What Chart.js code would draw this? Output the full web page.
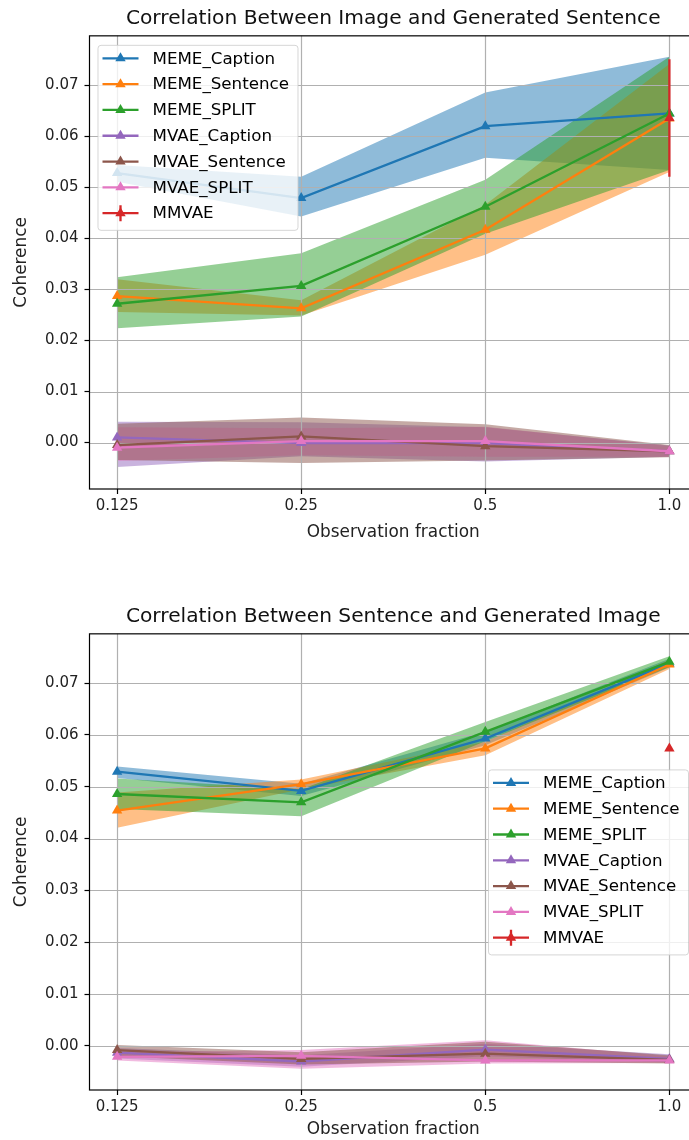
<!DOCTYPE html>
<html>
<head>
<meta charset="utf-8">
<script src="https://cdn.jsdelivr.net/npm/chart.js@4/dist/chart.umd.min.js"></script>
<style>
    html, body { margin: 0; padding: 0; background: #fff; }
    /* the figure is cut on the right: canvases are wider than the page and clipped here */
    #wrap { position: relative; width: 689px; height: 1140px; overflow: hidden; }
    canvas { position: absolute; left: 0; }
    #imgSent { top: 0; }
    #sentImg { top: 598px; }
</style>
</head>
<body>
<div id="wrap">
    <canvas id="imgSent" width="697" height="543"></canvas>
    <canvas id="sentImg" width="697" height="542"></canvas>
</div>
<script>
// ============================================================================
// Data
// ============================================================================

const xTickLabels = ['0.125', '0.25', '0.5', '1.0'];
const xPositions = [0, 1, 2, 3];
const yTickValues = [0, 0.01, 0.02, 0.03, 0.04, 0.05, 0.06, 0.07];

const seriesNames = ['MEME_Caption', 'MEME_Sentence', 'MEME_SPLIT', 'MVAE_Caption', 'MVAE_Sentence', 'MVAE_SPLIT'];
const seriesColors = ['#1f77b4', '#ff7f0e', '#2ca02c', '#9467bd', '#8c564b', '#e377c2'];
const mmvaeName = 'MMVAE';
const mmvaeColor = '#d62728';

// Image -> generated sentence
const i2sMean = [
    [0.0528, 0.0479, 0.0620, 0.0645],
    [0.0287, 0.0263, 0.0417, 0.0635],
    [0.0272, 0.0307, 0.0462, 0.0645],
    [0.0010, -0.0001, -0.0001, -0.0017],
    [-0.0005, 0.0012, -0.0007, -0.0017],
    [-0.0010, 0.0003, 0.0003, -0.0017]
];
const i2sLow = [
    [0.0511, 0.0443, 0.0558, 0.0534],
    [0.0256, 0.0249, 0.0368, 0.0530],
    [0.0224, 0.0247, 0.0409, 0.0534],
    [-0.0048, -0.0027, -0.0037, -0.0028],
    [-0.0034, -0.0040, -0.0035, -0.0029],
    [-0.0036, -0.0025, -0.0028, -0.0028]
];
const i2sHigh = [
    [0.0544, 0.0521, 0.0686, 0.0756],
    [0.0320, 0.0279, 0.0466, 0.0742],
    [0.0324, 0.0371, 0.0515, 0.0756],
    [0.0041, 0.0040, 0.0030, -0.0006],
    [0.0037, 0.0049, 0.0036, -0.0005],
    [0.0030, 0.0028, 0.0031, -0.0007]
];
const i2sMmvae = [0.0636, 0.0521, 0.0751]; // mean, low, high at 1.0

// Sentence -> generated image
const s2iMean = [
    [0.0529, 0.0492, 0.0593, 0.0738],
    [0.0454, 0.0505, 0.0574, 0.0736],
    [0.0486, 0.0470, 0.0606, 0.0741],
    [-0.0013, -0.0030, -0.0007, -0.0025],
    [-0.0008, -0.0025, -0.0015, -0.0027],
    [-0.0021, -0.0019, -0.0028, -0.0028]
];
const s2iLow = [
    [0.0517, 0.0482, 0.0580, 0.0730],
    [0.0421, 0.0495, 0.0561, 0.0727],
    [0.0457, 0.0443, 0.0588, 0.0731],
    [-0.0024, -0.0040, -0.0020, -0.0032],
    [-0.0020, -0.0036, -0.0030, -0.0034],
    [-0.0028, -0.0044, -0.0034, -0.0033]
];
const s2iHigh = [
    [0.0539, 0.0506, 0.0606, 0.0747],
    [0.0489, 0.0514, 0.0587, 0.0745],
    [0.0516, 0.0495, 0.0625, 0.0752],
    [-0.0004, -0.0018, 0.0004, -0.0016],
    [0.0002, -0.0012, 0.0008, -0.0018],
    [-0.0012, -0.0008, 0.0011, -0.0020]
];
const s2iMmvae = [0.0574, 0.0574, 0.0574];

// band stacking (bottom first); the brown band ends up on top near zero
const bandDrawOrder = [0, 1, 2, 3, 5, 4];

// ============================================================================
// Helpers
// ============================================================================

const FONT = 'DejaVu Sans';

function hexToRgba(hex, a) {
    const n = parseInt(hex.slice(1), 16);
    return `rgba(${(n >> 16) & 255}, ${(n >> 8) & 255}, ${n & 255}, ${a})`;
}

function toPoints(values) {
    return values.map((v, i) => ({ x: xPositions[i], y: v }));
}

// grid on top of the bands, under the lines (matplotlib zorder)
const gridPlugin = {
    id: 'mplGrid',
    beforeDatasetsDraw(chart) {
        const { ctx, chartArea: a, scales: { x, y } } = chart;
        ctx.save();
        ctx.strokeStyle = '#b0b0b0';
        ctx.lineWidth = 1.2;
        ctx.beginPath();
        x.ticks.forEach(t => {
            const px = Math.round(x.getPixelForValue(t.value)) + 0.5;
            ctx.moveTo(px, a.top); ctx.lineTo(px, a.bottom);
        });
        y.ticks.forEach(t => {
            const py = Math.round(y.getPixelForValue(t.value)) + 0.5;
            ctx.moveTo(a.left, py); ctx.lineTo(a.right, py);
        });
        ctx.stroke();
        ctx.restore();
    },
    afterDatasetsDraw(chart) {
        const { ctx, chartArea: a } = chart;
        ctx.save();
        ctx.strokeStyle = '#000';
        ctx.lineWidth = 1.2;
        ctx.strokeRect(a.left, a.top, a.right - a.left, a.bottom - a.top);
        ctx.restore();
    }
};

function drawHandle(ctx, x0, y, color, withBar) {
    ctx.strokeStyle = color;
    ctx.lineWidth = 2.3;
    ctx.beginPath();
    ctx.moveTo(x0, y); ctx.lineTo(x0 + 36, y);
    if (withBar) { ctx.moveTo(x0 + 18, y - 8); ctx.lineTo(x0 + 18, y + 8); }
    ctx.stroke();
    const r = 6, cx = x0 + 18;
    ctx.fillStyle = color;
    ctx.beginPath();
    ctx.moveTo(cx, y - r);
    ctx.lineTo(cx + r * 0.866, y + r * 0.5);
    ctx.lineTo(cx - r * 0.866, y + r * 0.5);
    ctx.closePath();
    ctx.fill();
}

const legendPlugin = {
    id: 'mplLegend',
    afterDraw(chart, args, opts) {
        const { ctx, chartArea: a } = chart;
        const w = 200, h = 185, rowH = 25.8;
        const bx = opts.place === 'upperLeft' ? a.left + 8 : a.right - 9 - w;
        const by = opts.place === 'upperLeft' ? a.top + 9 : (a.top + a.bottom) / 2 - h / 2;
        ctx.save();
        ctx.fillStyle = 'rgba(255,255,255,0.8)';
        ctx.strokeStyle = 'rgba(204,204,204,0.8)';
        ctx.lineWidth = 1;
        ctx.beginPath();
        ctx.roundRect(bx + 0.5, by + 0.5, w, h, 3);
        ctx.fill();
        ctx.stroke();
        const labels = seriesNames.concat([mmvaeName]);
        const colors = seriesColors.concat([mmvaeColor]);
        ctx.font = `16.7px "${FONT}"`;
        ctx.textBaseline = 'middle';
        labels.forEach((name, i) => {
            const ry = by + 13.5 + i * rowH;
            drawHandle(ctx, bx + 5, ry, colors[i], i === labels.length - 1);
            ctx.fillStyle = '#000';
            ctx.fillText(name, bx + 55, ry + 1);
        });
        ctx.restore();
    }
};

// ============================================================================
// Chart builder
// ============================================================================

function renderCoherenceChart(canvasId, title, means, lows, highs, mmvae, yMin, yMax, xAxisH, legendPlace) {
    const ctx = document.getElementById(canvasId);
    const datasets = [];

    // bands: lower edge (invisible) + upper edge filled to it
    bandDrawOrder.forEach((i, k) => {
        const bandOrder = 30 - k;
        datasets.push({
            data: toPoints(lows[i]), borderWidth: 0, pointRadius: 0, fill: false, order: bandOrder
        });
        datasets.push({
            data: toPoints(highs[i]), borderWidth: 0, pointRadius: 0,
            fill: '-1', backgroundColor: hexToRgba(seriesColors[i], 0.5), order: bandOrder
        });
    });

    // mean lines
    means.forEach((m, i) => {
        datasets.push({
            label: seriesNames[i],
            data: toPoints(m),
            borderColor: seriesColors[i],
            backgroundColor: seriesColors[i],
            borderWidth: 2.3,
            pointStyle: 'triangle',
            pointRadius: 6,
            pointBorderWidth: 0,
            fill: false,
            order: 10 - i
        });
    });

    // MMVAE: single point with error bar at 1.0
    datasets.push({
        data: [{ x: xPositions[3], y: mmvae[1] }, { x: xPositions[3], y: mmvae[2] }],
        borderColor: mmvaeColor, borderWidth: 2.3, pointRadius: 0, fill: false, order: 2
    });
    datasets.push({
        label: mmvaeName,
        data: [{ x: xPositions[3], y: mmvae[0] }],
        borderColor: mmvaeColor, backgroundColor: mmvaeColor,
        pointStyle: 'triangle', pointRadius: 6, pointBorderWidth: 0, showLine: false, order: 1
    });

    const tickFont = { family: FONT, size: 15 };
    const labelFont = { family: FONT, size: 16.9 };

    return new Chart(ctx, {
        type: 'line',
        data: { datasets },
        options: {
            responsive: false,
            animation: false,
            layout: { padding: 0, autoPadding: false },
            elements: { line: { tension: 0 } },
            scales: {
                x: {
                    type: 'linear',
                    min: -0.15,
                    max: 3.15,
                    afterBuildTicks: s => { s.ticks = xPositions.map(v => ({ value: v })); },
                    afterFit: s => { s.height = xAxisH; s.paddingLeft = 0; s.paddingRight = 0; },
                    ticks: {
                        callback: v => xTickLabels[v],
                        font: tickFont, color: '#222', padding: 3, maxRotation: 0, autoSkip: false
                    },
                    grid: { drawOnChartArea: false, tickColor: '#000', tickLength: 5, tickWidth: 1.2 },
                    border: { display: false },
                    title: {
                        display: true, text: 'Observation fraction',
                        font: labelFont, color: '#222', padding: { top: 0, bottom: 0 }
                    }
                },
                y: {
                    min: yMin,
                    max: yMax,
                    afterBuildTicks: s => { s.ticks = yTickValues.map(v => ({ value: v })); },
                    afterFit: s => { s.width = 89.5; s.paddingTop = 0; s.paddingBottom = 0; },
                    ticks: {
                        callback: v => v.toFixed(2),
                        font: tickFont, color: '#222', padding: 6
                    },
                    grid: { drawOnChartArea: false, tickColor: '#000', tickLength: 5, tickWidth: 1.2 },
                    border: { display: false },
                    title: {
                        display: true, text: 'Coherence',
                        font: labelFont, color: '#222', padding: { top: 11, bottom: 0 }
                    }
                }
            },
            plugins: {
                legend: { display: false },
                tooltip: { enabled: false },
                filler: { drawTime: 'beforeDatasetsDraw' },
                title: {
                    display: true, text: title, fullSize: false,
                    font: { family: FONT, size: 20.2, weight: 'normal' }, color: '#111',
                    padding: { top: 6.8, bottom: 4.8 }
                },
                mplLegend: { place: legendPlace }
            }
        },
        plugins: [gridPlugin, legendPlugin]
    });
}

renderCoherenceChart('imgSent', 'Correlation Between Image and Generated Sentence',
    i2sMean, i2sLow, i2sHigh, i2sMmvae, -0.0091, 0.0797, 54, 'upperLeft');
renderCoherenceChart('sentImg', 'Correlation Between Sentence and Generated Image',
    s2iMean, s2iLow, s2iHigh, s2iMmvae, -0.0085, 0.0795, 50, 'centerRight');
</script>
</body>
</html>
